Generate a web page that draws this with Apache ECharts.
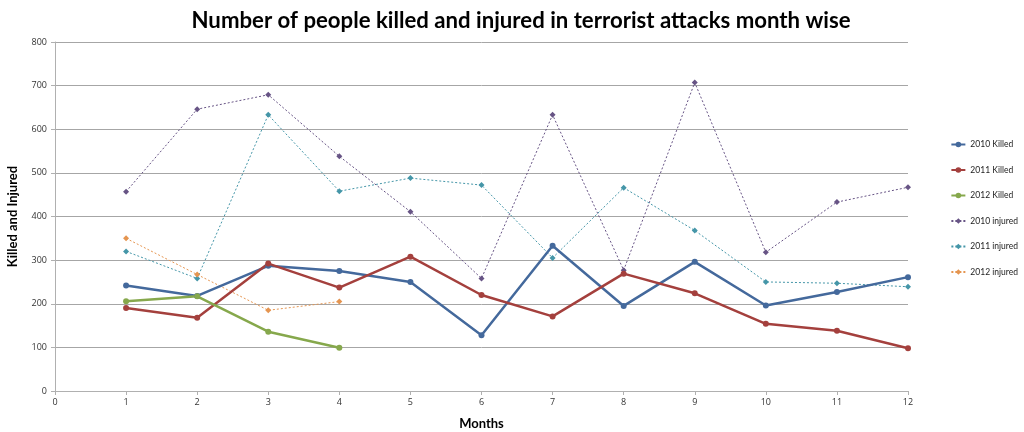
<!DOCTYPE html>
<html>
<head>
<meta charset="utf-8">
<script src="https://cdn.jsdelivr.net/npm/echarts@6/dist/echarts.min.js"></script>
<style>
  html, body { margin: 0; padding: 0; background: #fff; }
  #chart { width: 1024px; height: 432px; }
</style>
</head>
<body>
<div id="chart"></div>
<script>
// months on the x axis
const months = [1, 2, 3, 4, 5, 6, 7, 8, 9, 10, 11, 12];

// values
const killed2010 = [242, 218, 287, 275, 250, 128, 333, 195, 296, 196, 227, 261];
const killed2011 = [190, 168, 292, 237, 308, 220, 171, 269, 224, 154, 138, 98];
const killed2012 = [206, 217, 136, 99];
const injured2010 = [457, 646, 679, 538, 411, 258, 633, 277, 707, 318, 433, 467];
const injured2011 = [320, 258, 633, 458, 488, 472, 305, 466, 368, 250, 247, 239];
const injured2012 = [350, 267, 185, 205];

const seriesNames = ["2010 Killed", "2011 Killed", "2012 Killed", "2010 injured", "2011 injured", "2012 injured"];

// pair each value with its month
const toPoints = (values) => values.map((v, i) => [months[i], v]);

const killedLine = (name, values, color) => ({
  name,
  type: "line",
  data: toPoints(values),
  symbol: "circle",
  symbolSize: 6,
  lineStyle: { width: 2.5, color },
  itemStyle: { color },
  z: 3,
});

const injuredLine = (name, values, color) => ({
  name,
  type: "line",
  data: toPoints(values),
  symbol: "diamond",
  symbolSize: 6,
  lineStyle: { width: 1, type: [2, 2], color },
  itemStyle: { color },
  z: 2,
});

const myChart = echarts.init(document.getElementById("chart"));

myChart.setOption({
  animation: false,
  title: {
    text: "Number of people killed and injured in terrorist attacks month wise",
    left: 516,
    textAlign: "center",
    top: 5,
    textStyle: { fontFamily: "Lato", fontWeight: "bold", fontSize: 22.2, color: "#000" },
  },
  grid: { left: 55, right: 116, top: 42, bottom: 41, outerBoundsMode: "none" },
  legend: {
    orient: "vertical",
    right: 6,
    top: 140,
    padding: 0,
    itemGap: 16.5,
    itemWidth: 14,
    itemHeight: 7,
    data: seriesNames,
    textStyle: { fontFamily: "Lato", fontSize: 8.5, color: "#222" },
  },
  xAxis: {
    type: "value",
    min: 0,
    max: 12,
    interval: 1,
    name: "Months",
    nameLocation: "middle",
    nameGap: 26,
    nameTextStyle: { fontFamily: "Lato", fontWeight: "bold", fontSize: 13, color: "#000" },
    axisLine: { show: true, lineStyle: { color: "#b0b0b0" } },
    axisTick: { show: true, length: 4, lineStyle: { color: "#b0b0b0" } },
    axisLabel: { fontFamily: "Open Sans", fontSize: 9, color: "#333", margin: 7 },
    splitLine: { show: false },
  },
  yAxis: {
    type: "value",
    min: 0,
    max: 800,
    interval: 100,
    name: "Killed and Injured",
    nameLocation: "middle",
    nameGap: 36,
    nameTextStyle: { fontFamily: "Lato", fontWeight: "bold", fontSize: 13, color: "#000" },
    axisLine: { show: true, lineStyle: { color: "#b0b0b0" } },
    axisTick: { show: true, length: 4, lineStyle: { color: "#b0b0b0" } },
    axisLabel: { fontFamily: "Open Sans", fontSize: 9, color: "#333", margin: 8 },
    splitLine: { show: true, lineStyle: { color: "#a6a6a6", width: 1 } },
  },
  series: [
    killedLine("2010 Killed", killed2010, "#44699c"),
    killedLine("2011 Killed", killed2011, "#a4403d"),
    killedLine("2012 Killed", killed2012, "#86a84c"),
    injuredLine("2010 injured", injured2010, "#675485"),
    injuredLine("2011 injured", injured2011, "#4596a8"),
    injuredLine("2012 injured", injured2012, "#e59550"),
  ],
});
</script>
</body>
</html>
